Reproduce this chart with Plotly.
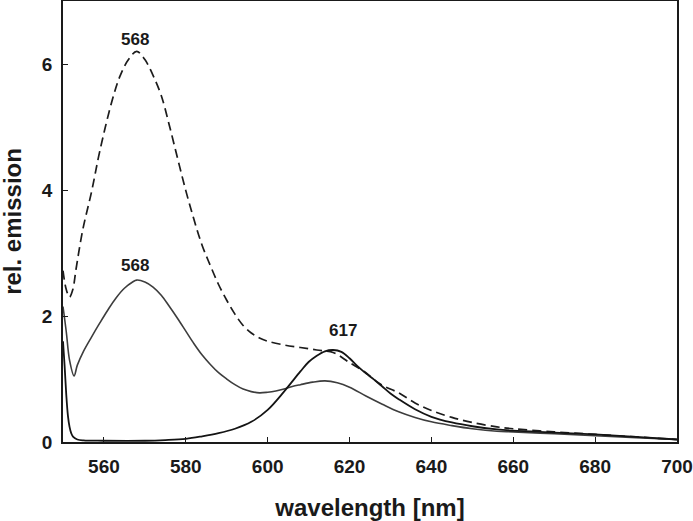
import plotly.graph_objects as go

# ---- data ----
wl_dashed = [550, 550.8, 551.6, 552.4, 553.2, 554.8, 557, 559, 562, 564, 566, 568, 570, 572, 574, 576,
             578, 580, 582, 584, 586, 588, 590, 592, 594, 596, 598, 600, 604, 608, 612, 616, 620,
             624, 626, 628, 632, 636, 640, 645, 650, 656, 660, 670, 680, 690, 700]
em_dashed = [2.72, 2.42, 2.30, 2.42, 2.75, 3.36, 3.98, 4.62, 5.42, 5.82, 6.07, 6.20, 6.07, 5.82, 5.50, 5.02,
             4.50, 3.99, 3.53, 3.12, 2.80, 2.50, 2.25, 2.03, 1.85, 1.73, 1.65, 1.60, 1.54, 1.50, 1.46, 1.42, 1.26,
             1.10, 0.99, 0.90, 0.78, 0.62, 0.50, 0.39, 0.31, 0.24, 0.21, 0.16, 0.12, 0.08, 0.04]

wl_gray = [550, 550.8, 551.6, 552.7, 553.5, 555, 557, 559, 561, 563, 565, 567, 568, 570, 572, 574, 576,
           578, 580, 582, 584, 586, 588, 590, 592, 594, 596, 598, 600, 602, 604, 606, 608, 611, 614, 617,
           620, 624, 628, 632, 636, 640, 645, 650, 656, 660, 670, 680, 690, 700]
em_gray = [2.15, 1.75, 1.30, 1.05, 1.22, 1.44, 1.67, 1.89, 2.10, 2.29, 2.44, 2.54, 2.57, 2.54, 2.46, 2.33, 2.15,
           1.96, 1.76, 1.56, 1.38, 1.23, 1.10, 1.00, 0.91, 0.84, 0.80, 0.78, 0.79, 0.81, 0.84, 0.88, 0.91, 0.95, 0.97, 0.94,
           0.87, 0.73, 0.60, 0.48, 0.39, 0.32, 0.26, 0.21, 0.17, 0.16, 0.13, 0.10, 0.07, 0.04]

wl_black = [550, 550.4, 550.8, 551.2, 551.6, 552, 552.5, 553.5, 555, 560, 570, 575, 580, 584, 588, 592,
            596, 600, 604, 608, 610, 612, 614, 616, 618, 620, 622, 624, 626, 628, 630, 632, 636, 640,
            645, 650, 656, 660, 670, 680, 690, 700]
em_black = [1.60, 1.20, 0.75, 0.42, 0.24, 0.14, 0.08, 0.04, 0.025, 0.02, 0.02, 0.03, 0.05, 0.09, 0.14, 0.21,
            0.32, 0.51, 0.80, 1.12, 1.27, 1.37, 1.44, 1.46, 1.43, 1.33, 1.20, 1.09, 0.99, 0.88, 0.77, 0.68, 0.52, 0.40,
            0.31, 0.25, 0.20, 0.18, 0.15, 0.12, 0.08, 0.04]

x_ticks = [560, 580, 600, 620, 640, 660, 680, 700]
y_ticks = [0, 2, 4, 6]

peak_labels = ["568", "568", "617"]
peak_x = [567.7, 567.7, 618.5]
peak_y = [6.39, 2.80, 1.77]

x_title = "wavelength [nm]"
y_title = "rel. emission"

FONT = "Liberation Sans, Arial, Helvetica, sans-serif"

fig = go.Figure()
fig.add_trace(go.Scatter(x=wl_dashed, y=em_dashed, mode="lines", line_shape="spline",
                         line=dict(color="#1c1c1c", width=1.7, dash="9px,5px"), showlegend=False))
fig.add_trace(go.Scatter(x=wl_gray, y=em_gray, mode="lines", line_shape="spline",
                         line=dict(color="#3d3d3d", width=1.6), showlegend=False))
fig.add_trace(go.Scatter(x=wl_black, y=em_black, mode="lines", line_shape="spline",
                         line=dict(color="#141414", width=1.8), showlegend=False))

for t, x, y in zip(peak_labels, peak_x, peak_y):
    fig.add_annotation(x=x, y=y, text=t, showarrow=False,
                       font=dict(family=FONT, size=17, color="#1a1a1a", weight="bold"))

# y-axis title placed as rotated paper annotation (to sit close to the left edge)
fig.add_annotation(xref="paper", yref="paper", x=-0.0825, y=0.5, text=y_title, textangle=-90,
                   showarrow=False, xanchor="center", yanchor="middle", borderpad=0,
                   font=dict(family=FONT, size=24, color="#1a1a1a", weight="bold"))

axis_common = dict(showline=True, mirror=True, linecolor="#1a1a1a", linewidth=1.6,
                   ticks="inside", ticklen=5, tickwidth=1.3, tickcolor="#1a1a1a",
                   showgrid=False, zeroline=False, automargin=False,
                   tickfont=dict(family=FONT, size=19, color="#1a1a1a", weight="bold"))

fig.update_xaxes(range=[550, 700], tickvals=x_ticks, ticktext=[str(v) for v in x_ticks],
                 ticklabelstandoff=6,
                 title=dict(text=x_title, standoff=26,
                            font=dict(family=FONT, size=24, color="#1a1a1a", weight="bold")),
                 **axis_common)
fig.update_yaxes(range=[0, 7], tickvals=y_ticks, ticktext=[str(v) for v in y_ticks],
                 ticklabelstandoff=5,
                 **axis_common)

fig.update_layout(width=693, height=521, margin=dict(l=63, r=16, t=1, b=79),
                  plot_bgcolor="white", paper_bgcolor="white")

fig.write_html("out.html", config={"displayModeBar": False},
               post_script="document.body.style.margin='0px';document.body.style.padding='0px';")
